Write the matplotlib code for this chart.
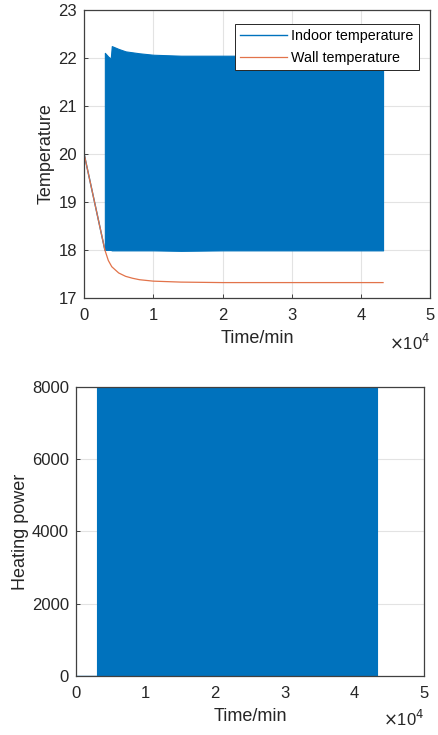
import numpy as np
import matplotlib
matplotlib.use('Agg')
from matplotlib import pyplot as plt

plt.rcParams['font.family'] = ['Liberation Sans', 'DejaVu Sans']

blue = '#0072BD'
orange = '#E2734A'

# Indoor temperature: free drop then dense on/off oscillation (envelope)
t_drop = [0, 3000]
T_drop = [20.0, 18.0]
t_env = [3000, 3500, 3850, 4000, 5000, 6000, 8000, 10000, 14000, 20000, 30000, 43200]
T_upper = [22.10, 22.02, 21.98, 22.24, 22.18, 22.13, 22.09, 22.06, 22.04, 22.04, 22.04, 22.04]
T_lower = [18.0, 18.0, 18.0, 17.99, 17.99, 17.99, 17.99, 17.99, 17.98, 17.99, 17.99, 17.99]

# Wall temperature
t_wall = [0, 3000, 3500, 4000, 5000, 6000, 7000, 8000, 10000, 14000, 20000, 30000, 43200]
T_wall = [20.0, 18.0, 17.78, 17.65, 17.52, 17.45, 17.41, 17.38, 17.35, 17.33, 17.32, 17.32, 17.32]

# Heating power
t_off = [0, 3000]
P_off = [0, 0]
t_on = [3000, 43200]
P_max = [8000, 8000]
P_min = [0, 0]

xticks = [0, 10000, 20000, 30000, 40000, 50000]
xticklabels = ['0', '1', '2', '3', '4', '5']

fig = plt.figure(figsize=(4.38, 7.35), dpi=100)
ax1 = fig.add_axes([0.192, 0.5946, 0.790, 0.3924])
ax2 = fig.add_axes([0.1735, 0.0803, 0.7945, 0.3932])


def style(ax, xoff):
    ax.set_xlim(0, 50000)
    ax.set_xticks(xticks)
    ax.set_xticklabels(xticklabels)
    ax.grid(True, color='#e3e3e3', linewidth=0.8)
    ax.set_axisbelow(True)
    ax.tick_params(direction='in', labelsize=12, colors='#262626', length=3, width=0.6)
    ax.tick_params(axis='x', pad=7)
    ax.tick_params(axis='y', pad=5)
    for s in ax.spines.values():
        s.set_color('#404040')
        s.set_linewidth(0.9)
    ax.set_xlabel('Time/min', fontsize=13, color='#262626', labelpad=5)
    ax.text(1.0, xoff, r'$\times$10$^4$', transform=ax.transAxes, ha='right', va='top',
            fontsize=12, color='#262626')


# top
ax1.plot(t_drop, T_drop, color=blue, linewidth=1, label='Indoor temperature')
ax1.fill_between(t_env, T_lower, T_upper, color=blue, linewidth=0.8, edgecolor=blue)
ax1.plot(t_wall, T_wall, color=orange, linewidth=0.9, label='Wall temperature')
ax1.set_ylim(17, 23)
ax1.set_yticks([17, 18, 19, 20, 21, 22, 23])
ax1.set_ylabel('Temperature', fontsize=13, color='#262626', labelpad=3)
style(ax1, -0.12)
leg = ax1.legend(loc='upper right', bbox_to_anchor=(0.967, 0.95), fontsize=10.3,
                 frameon=True, fancybox=False, edgecolor='#262626', framealpha=1,
                 borderaxespad=0, handlelength=3.3, borderpad=0.35, labelspacing=0.55,
                 handletextpad=0.3)
leg.get_frame().set_linewidth(0.7)

# bottom
ax2.plot(t_off, P_off, color=blue, linewidth=1)
ax2.fill_between(t_on, P_min, P_max, color=blue, linewidth=0.8, edgecolor=blue)
ax2.set_ylim(0, 8000)
ax2.set_yticks([0, 2000, 4000, 6000, 8000])
ax2.set_ylabel('Heating power', fontsize=13, color='#262626', labelpad=2)
style(ax2, -0.115)

fig.savefig('out.png', dpi=100)
